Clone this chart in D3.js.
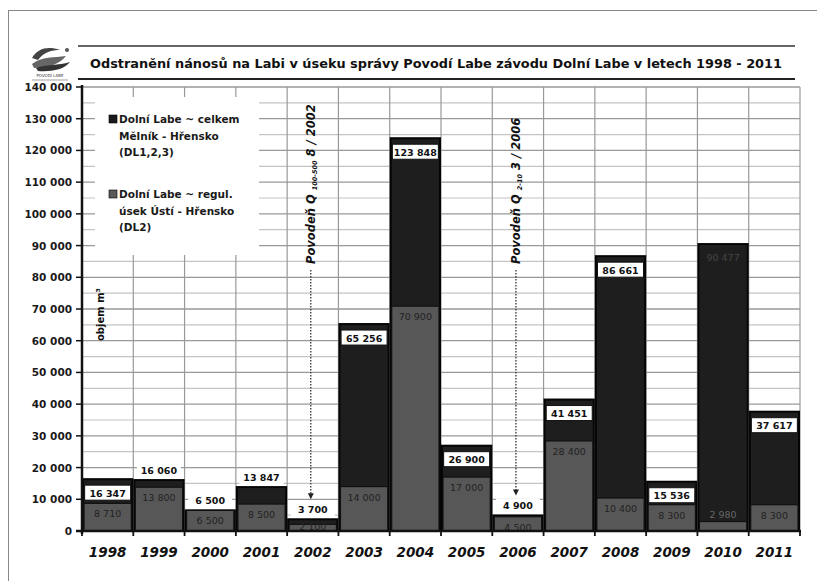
<!DOCTYPE html>
<html><head><meta charset="utf-8">
<script src="https://cdn.jsdelivr.net/npm/d3@7"></script>
<style>
body{margin:0;background:#fff;}
svg{display:block;font-family:"DejaVu Sans",Verdana,sans-serif;}
</style></head>
<body><svg id="chart" width="817" height="581"></svg>
<script>
const years = ["1998","1999","2000","2001","2002","2003","2004","2005","2006","2007","2008","2009","2010","2011"];
const totalValues = [16347,16060,6500,13847,3700,65256,123848,26900,4900,41451,86661,15536,90477,37617];
const dl2Values = [8710,13800,6500,8500,2100,14000,70900,17000,4500,28400,10400,8300,2980,8300];
const yTickValues = [0,10000,20000,30000,40000,50000,60000,70000,80000,90000,100000,110000,120000,130000,140000];
const titleText = "Odstranění nánosů na Labi v úseku  správy Povodí Labe závodu Dolní Labe v letech 1998 - 2011";
const legendTotal = ["Dolní Labe ~ celkem","Mělník - Hřensko","(DL1,2,3)"];
const legendDl2 = ["Dolní Labe ~ regul.","úsek Ústí - Hřensko","(DL2)"];
const yAxisTitle = "objem m³";
const floods = [{year:"2002", main:"Povodeň Q ", sub:"100-500", tail:" 8 / 2002"},
                {year:"2006", main:"Povodeň Q ", sub:"2-10", tail:" 3 / 2006"}];
const unboxedTotals = ["2010"];

const svg = d3.select("#chart");
const L = 82, R = 800, T = 87, B = 531;
const x = d3.scaleBand().domain(years).range([L, R]).padding(0);
const y = d3.scaleLinear().domain([0, 140000]).range([B, T]);
const loc = d3.formatLocale({decimal:",", thousands:" ", grouping:[3], currency:["",""]});
const fmt = loc.format(",d");

// frame
svg.append("line").attr("x1",8.5).attr("x2",8.5).attr("y1",10).attr("y2",581).attr("stroke","#888");
svg.append("line").attr("x1",8).attr("x2",817).attr("y1",10.5).attr("y2",10.5).attr("stroke","#888");

// logo
const logo = svg.append("g").attr("transform","translate(30,44)");
logo.append("path").attr("d","M2,14 C8,4 18,2 30,6 C22,6 14,8 8,16 Z").attr("fill","#444");
logo.append("path").attr("d","M2,20 C12,12 24,14 36,12 C30,20 18,24 4,24 Z").attr("fill","#666");
logo.append("path").attr("d","M6,24 C16,20 28,22 40,18 C34,26 20,28 8,27 Z").attr("fill","#333");
logo.append("circle").attr("cx",37).attr("cy",6).attr("r",2).attr("fill","#555");
logo.append("text").attr("x",20).attr("y",33).attr("text-anchor","middle").attr("font-size",4).attr("fill","#333").text("POVODÍ LABE");
logo.append("line").attr("x1",2).attr("x2",38).attr("y1",36).attr("y2",36).attr("stroke","#888").attr("stroke-width",0.8);

// title lines
svg.append("line").attr("x1",78).attr("x2",795).attr("y1",46).attr("y2",46).attr("stroke","#333").attr("stroke-width",1.5);
svg.append("line").attr("x1",78).attr("x2",795).attr("y1",79).attr("y2",79).attr("stroke","#222").attr("stroke-width",2);
svg.append("text").attr("x",90).attr("y",68).attr("font-size",12).attr("font-weight","bold").attr("fill","#111")
  .attr("textLength",692).attr("lengthAdjust","spacingAndGlyphs").text(titleText);

// gridlines
const minor = d3.range(5000, 140000, 10000);
svg.append("g").selectAll("line").data(minor).join("line")
  .attr("x1",L).attr("x2",R).attr("y1",d=>y(d)).attr("y2",d=>y(d)).attr("stroke","#c4c4c4").attr("stroke-width",1.2);
svg.append("g").selectAll("line").data(yTickValues.slice(1)).join("line")
  .attr("x1",L).attr("x2",R).attr("y1",d=>y(d)).attr("y2",d=>y(d)).attr("stroke","#999").attr("stroke-width",1.3);
svg.append("g").selectAll("line").data(years.slice(1)).join("line")
  .attr("x1",d=>x(d)).attr("x2",d=>x(d)).attr("y1",T).attr("y2",B).attr("stroke","#999").attr("stroke-width",1.2);
svg.append("line").attr("x1",R).attr("x2",R).attr("y1",T).attr("y2",B).attr("stroke","#999").attr("stroke-width",1.2);

// legend box
svg.append("rect").attr("x",95).attr("y",97).attr("width",164).attr("height",158).attr("fill","#fff");
function legendGroup(lines, y0, color){
  svg.append("rect").attr("x",109).attr("y",y0-7).attr("width",8).attr("height",8).attr("fill",color).attr("stroke","#000").attr("stroke-width",0.6);
  lines.forEach((t,i)=>{
    svg.append("text").attr("x",119).attr("y",y0+1+i*16.5).attr("font-size",10.5).attr("font-weight","bold").attr("fill","#1a1a1a").text(t);
  });
}
legendGroup(legendTotal, 122, "#1a1a1a");
legendGroup(legendDl2, 197, "#5a5a5a");

// y axis title
svg.append("text").attr("transform","translate(104,341) rotate(-90)").attr("font-size",10).attr("font-weight","bold").attr("fill","#111").text(yAxisTitle);

// bars
const bars = svg.append("g");
years.forEach((yr,i)=>{
  const x0 = x(yr)+1, w = x.bandwidth()-2;
  bars.append("rect").attr("x",x0).attr("y",y(totalValues[i])).attr("width",w).attr("height",B-y(totalValues[i]))
    .attr("fill","#1e1e1e").attr("stroke","#050505").attr("stroke-width",2);
  bars.append("rect").attr("x",x0+1).attr("y",y(dl2Values[i])).attr("width",w-2).attr("height",B-y(dl2Values[i]))
    .attr("fill","#575757").attr("stroke","#111").attr("stroke-width",1.2);
});

// DL2 labels
years.forEach((yr,i)=>{
  const cx = x(yr)+x.bandwidth()/2;
  let ly = y(dl2Values[i]) + 14;
  let col = "#222";
  if (B - y(dl2Values[i]) < 14) ly = Math.min(B - 1, y(dl2Values[i]) + 9);
  if (dl2Values[i] < 4000 && totalValues[i] - dl2Values[i] > 20000) { ly = y(dl2Values[i]) - 4; col = "#666"; }
  svg.append("text").attr("x",cx).attr("y",ly).attr("text-anchor","middle").attr("font-size",9.5)
    .attr("fill",col).text(fmt(dl2Values[i]));
});

// total labels
years.forEach((yr,i)=>{
  const cx = x(yr)+x.bandwidth()/2;
  const top = y(totalValues[i]);
  const diff = y(dl2Values[i]) - top;
  const txt = fmt(totalValues[i]);
  if (unboxedTotals.includes(yr)) {
    svg.append("text").attr("x",cx).attr("y",top+17).attr("text-anchor","middle").attr("font-size",9.5).attr("fill","#454545").text(txt);
    return;
  }
  if (diff >= 18) {
    svg.append("rect").attr("x",cx-23).attr("y",top+6).attr("width",46).attr("height",15).attr("fill","#fff").attr("stroke","#111").attr("stroke-width",1);
    svg.append("text").attr("x",cx).attr("y",top+17.5).attr("text-anchor","middle").attr("font-size",9.5).attr("font-weight","bold").attr("fill","#111").text(txt);
  } else {
    svg.append("rect").attr("x",cx-22).attr("y",top-17).attr("width",44).attr("height",14).attr("fill","#fff");
    svg.append("text").attr("x",cx).attr("y",top-6).attr("text-anchor","middle").attr("font-size",9.5).attr("font-weight","bold").attr("fill","#111").text(txt);
  }
});

// flood annotations
floods.forEach(f=>{
  const i = years.indexOf(f.year);
  const cx = x(f.year)+x.bandwidth()/2 - 2;
  const tip = y(totalValues[i]) - 20;
  svg.append("line").attr("x1",cx).attr("x2",cx).attr("y1",270).attr("y2",tip-4)
    .attr("stroke","#333").attr("stroke-width",1.3).attr("stroke-dasharray","1.5,1.5");
  svg.append("path").attr("d",`M${cx-3},${tip-6}L${cx+3},${tip-6}L${cx},${tip}Z`).attr("fill","#222");
  const t = svg.append("text").attr("transform",`translate(${cx+4},264) rotate(-90)`)
    .attr("font-size",11.5).attr("font-weight","bold").attr("font-style","italic").attr("fill","#111");
  t.append("tspan").text(f.main);
  t.append("tspan").attr("font-size",6.5).attr("dy",2).text(f.sub);
  t.append("tspan").attr("dy",-2).text(f.tail);
});

// y axis
svg.append("line").attr("x1",L).attr("x2",L).attr("y1",T-2).attr("y2",B+3).attr("stroke","#111").attr("stroke-width",2.5);
svg.append("g").selectAll("line").data(yTickValues).join("line")
  .attr("x1",L-6).attr("x2",L).attr("y1",d=>y(d)).attr("y2",d=>y(d)).attr("stroke","#111").attr("stroke-width",1.5);
svg.append("g").selectAll("text").data(yTickValues).join("text")
  .attr("x",72).attr("y",d=>y(d)+4).attr("text-anchor","end").attr("font-size",10.5).attr("font-weight","bold").attr("fill","#1a1a1a")
  .text(d=>fmt(d));

// x axis
svg.append("line").attr("x1",L-6).attr("x2",R+1).attr("y1",B).attr("y2",B).attr("stroke","#111").attr("stroke-width",2.5);
svg.append("g").selectAll("line").data(years.concat(["end"])).join("line")
  .attr("x1",d=>d==="end"?R:x(d)).attr("x2",d=>d==="end"?R:x(d)).attr("y1",B).attr("y2",B+5).attr("stroke","#111").attr("stroke-width",1.8);
svg.append("g").selectAll("text").data(years).join("text")
  .attr("x",d=>x(d)+x.bandwidth()/2).attr("y",557).attr("text-anchor","middle")
  .attr("font-size",13.5).attr("font-weight","bold").attr("font-style","italic").attr("fill","#111").text(d=>d);
</script></body></html>
